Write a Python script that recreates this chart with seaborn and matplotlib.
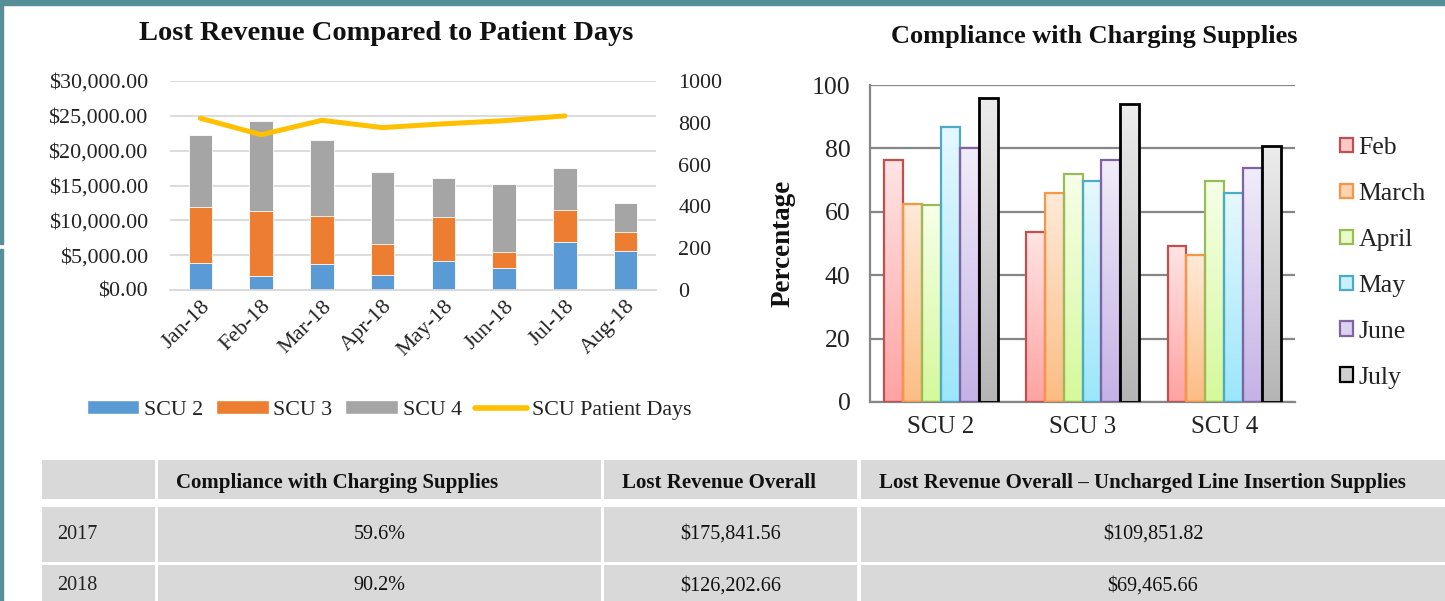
import numpy as np
import pandas as pd
import matplotlib
matplotlib.use("Agg")
import matplotlib.pyplot as plt
import seaborn as sns
from matplotlib.patches import Rectangle, Patch
from matplotlib.lines import Line2D
from matplotlib.ticker import FuncFormatter, MultipleLocator
from matplotlib.colors import to_rgb

# ---------------- data ----------------
months = ["Jan-18", "Feb-18", "Mar-18", "Apr-18", "May-18", "Jun-18", "Jul-18", "Aug-18"]
scu2 = [3900, 2000, 3750, 2100, 4100, 3200, 6850, 5600]
scu3 = [8050, 9350, 6900, 4550, 6400, 2300, 4700, 2700]
scu4 = [10250, 12950, 10950, 10300, 5550, 9750, 5900, 4250]
patient_days = [822, 743, 812, 777, 795, 810, 833, np.nan]

units = ["SCU 2", "SCU 3", "SCU 4"]
comp_months = ["Feb", "March", "April", "May", "June", "July"]
feb = [76.3, 53.5, 49.2]
march = [62.4, 66.0, 46.3]
april = [62.2, 71.8, 69.8]
may = [86.8, 69.7, 65.9]
june = [80.2, 76.4, 73.9]
july = [95.9, 94.0, 80.7]

table_header = ["", "Compliance with Charging Supplies", "Lost Revenue Overall",
                "Lost Revenue Overall \u2013 Uncharged Line Insertion Supplies"]
row_2017 = ["2017", "59.6%", "$175,841.56", "$109,851.82"]
row_2018 = ["2018", "90.2%", "$126,202.66", "$69,465.66"]

# ---------------- style ----------------
sns.set_theme(style="white")
plt.rcParams["font.family"] = ["Liberation Serif", "DejaVu Serif"]
plt.rcParams["text.parse_math"] = False

W, H = 1445, 601
fig = plt.figure(figsize=(W / 100, H / 100), dpi=100)
fig.patch.set_facecolor("white")

def fx(px):
    return px / W

def fy(py):
    return 1 - py / H

# frame strips
teal = "#578f98"
fig.patches.append(Rectangle((0, fy(5)), 1, 5 / H, transform=fig.transFigure, color=teal, zorder=0))
fig.patches.append(Rectangle((0, fy(244)), 3 / W, 244 / H, transform=fig.transFigure, color=teal, zorder=0))
fig.patches.append(Rectangle((0, 0), 3 / W, fy(249), transform=fig.transFigure, color=teal, zorder=0))

TXT = "#222222"

# ---------------- left chart ----------------
axL = fig.add_axes([fx(170), fy(290), fx(656) - fx(170), fy(81) - fy(290)])
s2 = np.array(scu2, dtype=float)
s23 = s2 + np.array(scu3, dtype=float)
s234 = s23 + np.array(scu4, dtype=float)
grid_c = "#d9d9d9"
for vals, col in [(s234, "#a5a5a5"), (s23, "#ed7d31"), (s2, "#5b9bd5")]:
    sns.barplot(x=months, y=vals, color=col, width=0.39, saturation=1, ax=axL,
                edgecolor="white", linewidth=0.6, zorder=2)
axL.set_ylim(0, 30000)
axL.set_xlim(-0.5, len(months) - 0.5)
axL.yaxis.set_major_locator(MultipleLocator(5000))
axL.yaxis.set_major_formatter(FuncFormatter(lambda v, p: "${:,.2f}".format(v)))
axL.grid(axis="y", color=grid_c, linewidth=1.3, zorder=0)
axL.set_axisbelow(True)
for sp in ["top", "right", "left"]:
    axL.spines[sp].set_visible(False)
axL.spines["bottom"].set_color(grid_c)
axL.spines["bottom"].set_linewidth(1.3)
axL.tick_params(axis="y", length=0, pad=16, labelsize=15.8, colors=TXT)
axL.tick_params(axis="x", which="major", length=0, pad=5, labelsize=16, colors=TXT)
axL.set_xticks(np.arange(-0.5, len(months)), minor=True)
axL.tick_params(axis="x", which="minor", length=7, width=1.3, color=grid_c)
for lab in axL.get_xticklabels():
    lab.set_rotation(45)
    lab.set_ha("right")
    lab.set_rotation_mode("anchor")
axL.set_xlabel("")
axL.set_ylabel("")

ax2 = axL.twinx()
sns.lineplot(x=np.arange(len(months)), y=patient_days, color="#ffc000", linewidth=3.6, ax=ax2,
             solid_capstyle="round")
ax2.set_ylim(0, 1000)
ax2.set_xlim(-0.5, len(months) - 0.5)
ax2.yaxis.set_major_locator(MultipleLocator(200))
ax2.tick_params(axis="y", length=0, pad=16, labelsize=15.8, colors=TXT)
for sp in ax2.spines.values():
    sp.set_visible(False)
ax2.grid(False)
ax2.set_ylabel("")

fig.text(fx(386), fy(33), "Lost Revenue Compared to Patient Days", ha="center", va="center",
         fontsize=20.5, fontweight="bold", color="#111111")

legL = [Patch(facecolor="#5b9bd5", label="SCU 2"), Patch(facecolor="#ed7d31", label="SCU 3"),
        Patch(facecolor="#a5a5a5", label="SCU 4"),
        Line2D([0], [0], color="#ffc000", linewidth=4, label="SCU Patient Days")]
fig.legend(handles=legL, loc="center", bbox_to_anchor=(fx(389), fy(410)), ncol=4, frameon=False,
           fontsize=15.8, handlelength=2.4, handleheight=0.55, handletextpad=0.2, columnspacing=0.6,
           labelcolor=TXT)

# ---------------- right chart ----------------
axC = fig.add_axes([fx(870), fy(402), fx(1295) - fx(870), fy(85) - fy(402)])
series = [feb, march, april, may, june, july]
dfc = pd.DataFrame({
    "unit": units * len(comp_months),
    "month": np.repeat(comp_months, len(units)),
    "pct": np.concatenate(series),
})
edges = ["#c0504d", "#f79646", "#9bbb59", "#4bacc6", "#8064a2", "#000000"]
tops = ["#ffe4e4", "#ffead8", "#f6ffe8", "#e6f8ff", "#f1ecf9", "#ececec"]
bottoms = ["#ffa3a3", "#fcbd84", "#d5f99c", "#9ce6fb", "#c5b2e6", "#b5b5b5"]
sns.barplot(data=dfc, x="unit", y="pct", hue="month", hue_order=comp_months,
            palette=edges, width=0.8, gap=0, saturation=1, ax=axC, legend=False, zorder=3)
axC.set_ylim(0, 100)
axC.set_xlim(-0.5, len(units) - 0.5)
for cont, ec, ct, cb in zip(axC.containers, edges, tops, bottoms):
    grad = np.linspace(np.array(to_rgb(cb)), np.array(to_rgb(ct)), 64)[:, None, :]
    for bar in cont:
        x0, y0, w, h = bar.get_x(), bar.get_y(), bar.get_width(), bar.get_height()
        axC.imshow(grad, extent=(x0, x0 + w, y0, y0 + h), origin="lower", aspect="auto",
                   zorder=2.5, interpolation="bilinear")
        bar.set_facecolor("none")
        bar.set_edgecolor(ec)
        bar.set_linewidth(1.6 if ec != "#000000" else 2.0)
axC.set_xlim(-0.5, len(units) - 0.5)
axC.set_ylim(0, 100)
axC.set_aspect("auto")
gc = "#868686"
axC.yaxis.set_major_locator(MultipleLocator(20))
axC.grid(axis="y", color=gc, linewidth=1.6, zorder=0)
axC.set_axisbelow(True)
for sp in ["top", "right"]:
    axC.spines[sp].set_visible(False)
for sp in ["left", "bottom"]:
    axC.spines[sp].set_color(gc)
    axC.spines[sp].set_linewidth(1.6)
axC.tick_params(axis="y", length=5, width=1.6, color=gc, pad=9, labelsize=18.5, labelcolor=TXT)
axC.tick_params(axis="x", which="major", length=0, pad=10, labelsize=18, labelcolor=TXT)
axC.set_xticks(np.arange(-0.5, len(units)), minor=True)
axC.tick_params(axis="x", which="minor", length=6, width=1.6, color=gc)
axC.set_xlabel("")
axC.set_ylabel("Percentage", fontsize=19.5, fontweight="bold", labelpad=12, color="#111111")

fig.text(fx(1094), fy(37), "Compliance with Charging Supplies", ha="center", va="center",
         fontsize=19, fontweight="bold", color="#111111")

mids = ["#ffc8c8", "#fdd3b0", "#e8fcc8", "#c8f0fd", "#dcd2f0", "#d0d0d0"]
legC = [Patch(facecolor=m, edgecolor=e, linewidth=1.6, label=l)
        for m, e, l in zip(mids, edges, comp_months)]
fig.legend(handles=legC, loc="upper left", bbox_to_anchor=(fx(1330), fy(127)), frameon=False,
           fontsize=18.5, handlelength=0.5, handleheight=0.5, handletextpad=0.2, labelspacing=0.93,
           borderaxespad=0, labelcolor=TXT)

# ---------------- table ----------------
axT = fig.add_axes([0, 0, 1, 1], zorder=-1)
axT.set_xlim(0, W)
axT.set_ylim(H, 0)
axT.axis("off")
col_edges = [(42, 155), (158, 601), (604, 857), (861, 1445)]
row_edges = [(460, 499), (507, 562), (565, 610)]
rows = [table_header, row_2017, row_2018]
cell_c = "#d9d9d9"
for ri, (rowvals, (ry0, ry1)) in enumerate(zip(rows, row_edges)):
    for ci, (txt, (cx0, cx1)) in enumerate(zip(rowvals, col_edges)):
        axT.add_patch(Rectangle((cx0, ry0), cx1 - cx0, ry1 - ry0, facecolor=cell_c, edgecolor="none"))
        yc = (ry0 + min(ry1, H)) / 2 if ri < 2 else 586
        if ri == 0:
            axT.text(cx0 + 18, yc + 1, txt, ha="left", va="center_baseline", fontsize=15,
                     fontweight="bold", color="#111111")
        elif ci == 0:
            axT.text(cx0 + 15, yc, txt, ha="left", va="center", fontsize=14.5, color=TXT)
        else:
            axT.text((cx0 + cx1) / 2, yc, txt, ha="center", va="center", fontsize=14.5,
                     color="#111111")

fig.savefig("out.png", dpi=100)
